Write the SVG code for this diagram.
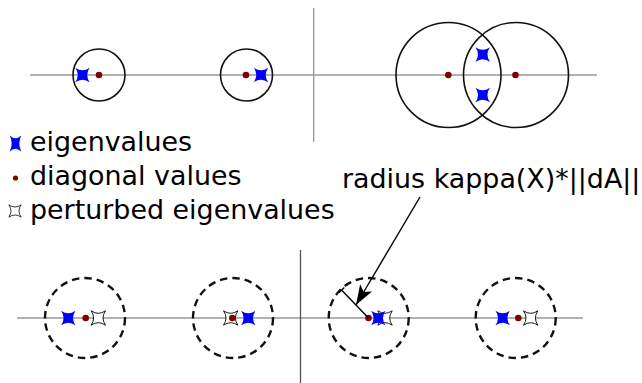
<svg xmlns="http://www.w3.org/2000/svg" xmlns:xlink="http://www.w3.org/1999/xlink" width="642" height="383" viewBox="0 0 642 383">
<style>
.axis{stroke:#999;stroke-width:1.6;fill:none}
.vaxis{stroke:#999;stroke-width:1.3;fill:none}
.vaxis2{stroke:#555;stroke-width:1.3;fill:none}
.circ{stroke:#111;stroke-width:1.6;fill:none}
.dcirc{stroke:#111;stroke-width:2.4;fill:none;stroke-dasharray:7.5 5}
.dot{fill:#800000}
.lbl{font-family:"DejaVu Sans","Liberation Sans",sans-serif;font-size:26.9px;fill:#000}
.conn{stroke:#000;stroke-width:1.4;fill:none}
</style>
<defs>
<path id="star" d="M-7.2,-7.2 Q0,-2.2 7.2,-7.2 Q2.2,0 7.2,7.2 Q0,2.2 -7.2,7.2 Q-2.2,0 -7.2,-7.2 Z"/>
<marker id="ah" markerUnits="userSpaceOnUse" viewBox="0 0 20 14" refX="20" refY="7" markerWidth="20" markerHeight="14" orient="auto">
<path d="M0,0 L20,7 L0,14 L5,7 Z" fill="#000"/>
</marker>
</defs>

<g id="axes">
<line class="axis" x1="30" y1="75" x2="597" y2="75"/>
<line class="vaxis" x1="313.7" y1="8" x2="313.7" y2="142"/>
<line class="axis" x1="17" y1="318" x2="583" y2="318"/>
<line class="vaxis2" x1="300.5" y1="250" x2="300.5" y2="383"/>
</g>

<g id="top-left">
<circle class="circ" cx="99" cy="75" r="26"/>
<use xlink:href="#star" x="82.5" y="75" fill="#0000ff"/>
<circle class="dot" cx="99" cy="75" r="3.3"/>
</g>
<g id="top-mid">
<circle class="circ" cx="246.5" cy="75" r="26"/>
<circle class="dot" cx="246" cy="75" r="3.3"/>
<use xlink:href="#star" x="261" y="75" fill="#0000ff"/>
</g>
<g id="top-right">
<circle class="circ" cx="448.5" cy="75" r="52.5"/>
<circle class="circ" cx="516" cy="75" r="52.5"/>
<circle class="dot" cx="448.3" cy="75" r="3.3"/>
<circle class="dot" cx="515.5" cy="75" r="3.3"/>
<use xlink:href="#star" x="482.7" y="54.5" fill="#0000ff"/>
<use xlink:href="#star" x="482.7" y="95" fill="#0000ff"/>
</g>

<g id="legend">
<use xlink:href="#star" transform="translate(15.5,143.5) scale(0.8,1.1)" fill="#0000ff"/>
<text class="lbl" x="30" y="151">eigenvalues</text>
<circle class="dot" cx="15.5" cy="178" r="2.6"/>
<text class="lbl" x="30" y="185">diagonal values</text>
<use xlink:href="#star" transform="translate(15,211) scale(0.85,0.85)" fill="#fff" stroke="#000" stroke-width="0.9"/>
<text class="lbl" x="30" y="219">perturbed eigenvalues</text>
</g>

<g id="bottom-1">
<circle class="dcirc" cx="85" cy="318" r="40"/>
<use xlink:href="#star" x="68.3" y="318" fill="#0000ff"/>
<circle class="dot" cx="85.7" cy="318" r="3.3"/>
<use xlink:href="#star" x="98.3" y="318" fill="#fff" stroke="#000" stroke-width="0.9"/>
</g>
<g id="bottom-2">
<circle class="dcirc" cx="233" cy="318" r="40"/>
<use xlink:href="#star" x="230.7" y="318" fill="#fff" stroke="#000" stroke-width="0.9"/>
<circle class="dot" cx="232.3" cy="318" r="3.3"/>
<use xlink:href="#star" x="248.3" y="318" fill="#0000ff"/>
</g>
<g id="bottom-3">
<circle class="dcirc" cx="368.7" cy="318" r="40"/>
<use xlink:href="#star" x="385" y="318" fill="#fff" stroke="#000" stroke-width="0.9"/>
<use xlink:href="#star" x="378.3" y="318" fill="#0000ff"/>
<circle class="dot" cx="368.5" cy="318" r="3.3"/>
</g>
<g id="bottom-4">
<circle class="dcirc" cx="515.7" cy="318" r="40"/>
<use xlink:href="#star" x="502.7" y="318" fill="#0000ff"/>
<circle class="dot" cx="518.3" cy="318" r="3.3"/>
<use xlink:href="#star" x="530.7" y="318" fill="#fff" stroke="#000" stroke-width="0.9"/>
</g>

<g id="radius-label">
<text class="lbl" x="342" y="188">radius kappa(X)*||dA||</text>
</g>

<g id="connectors">
<line class="conn" x1="368.5" y1="318" x2="341.5" y2="290"/>
<line class="conn" x1="338.8" y1="292.8" x2="344.3" y2="287.4"/>
<line class="conn" x1="420" y1="197" x2="356" y2="305" marker-end="url(#ah)"/>
</g>
</svg>
